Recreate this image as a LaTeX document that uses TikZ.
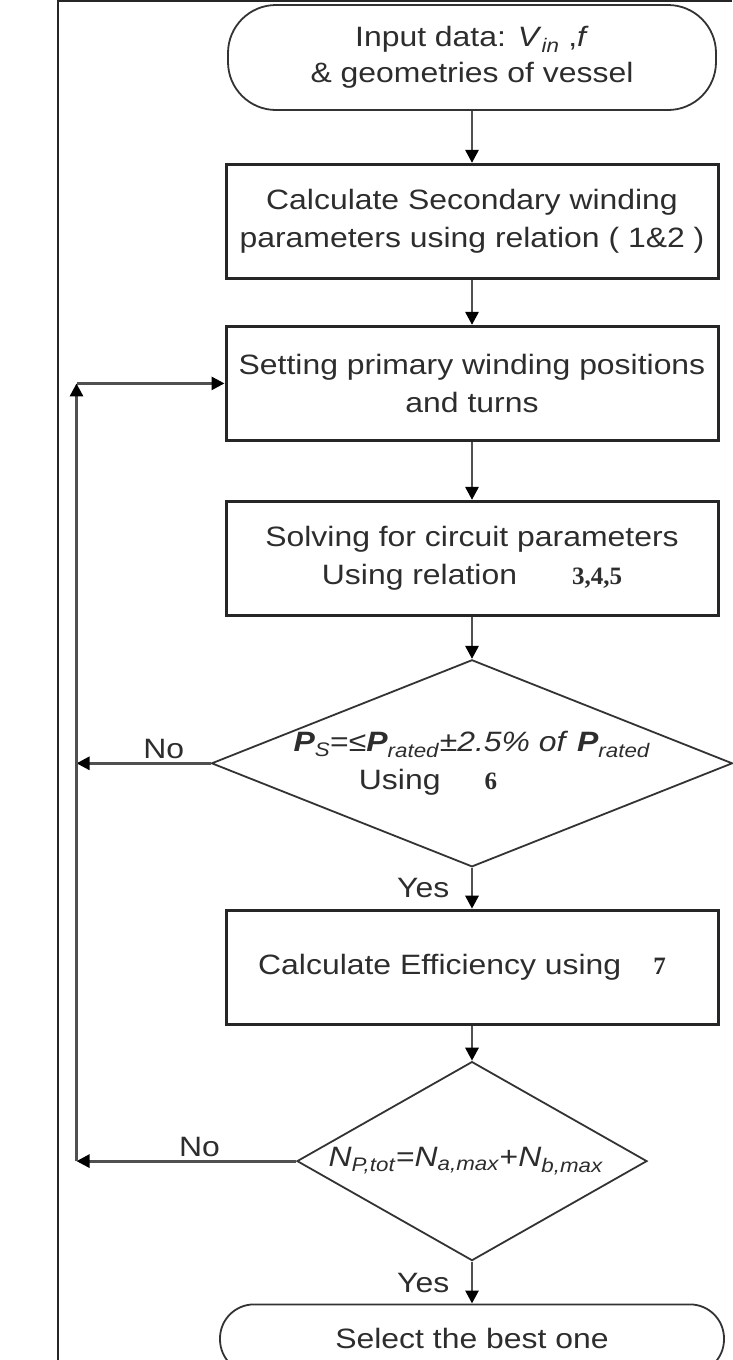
\documentclass[tikz,border=0pt]{standalone}
\usepackage{fontspec}
\setmainfont{Liberation Sans}[FakeStretch=1.14]
\newfontfamily\numfont{Liberation Serif}
\usetikzlibrary{positioning,arrows.meta,shapes.geometric}
\definecolor{linegray}{RGB}{80,80,80}
\definecolor{textgray}{RGB}{45,45,45}
\newcommand{\relno}[1]{{\numfont\bfseries\fontsize{25}{25}\selectfont #1}}
\tikzset{
  arrow/.style={-{Triangle[length=13pt,width=13pt,color=black]}, line width=2.8pt, draw=linegray},
  lbl/.style={font=\fontsize{28}{38}\selectfont, text=textgray},
  frame/.style={line width=2.2pt, draw=black!85},
  block/.style={
    draw=black!85,
    line width=3pt,
    rectangle,
    minimum width=492pt,
    minimum height=114pt,
    align=center,
    font=\fontsize{28}{38}\selectfont,
    text=textgray
  },
  decision/.style={
    diamond,
    draw=black!80,
    line width=1.8pt,
    inner sep=0pt
  },
  terminal/.style={
    rectangle,
    draw=black!80,
    line width=1.8pt,
    align=center,
    font=\fontsize{28}{36}\selectfont,
    text=textgray
  }
}

\begin{document}
\begin{tikzpicture}[x=1pt, y=-1pt, node distance=45pt]

\useasboundingbox (0,0) rectangle (732,1360);

% Outer frame
\draw[frame] (58,1360) -- (58,1) -- (732,1);

% Main column
\node[terminal, minimum width=488pt, minimum height=105pt, rounded corners=48pt] (start) at (472,57.5)
  {Input data: \textit{V}\textsubscript{\textit{in}} ,\textit{f}\\ \& geometries of vessel};
\node[block, below=52pt of start] (secondary)
  {Calculate Secondary winding\\parameters using relation ( 1\&2 )};
\node[block, below=45pt of secondary] (primary)
  {Setting primary winding positions\\and turns};
\node[block, below=58pt of primary] (solve)
  {Solving for circuit parameters\\Using relation\hspace{55pt}\relno{3,4,5}};
\node[decision, minimum width=521pt, minimum height=207pt, below=42pt of solve] (power) {};
\node[lbl, align=center] (powertxt) at (power)
  {\textbf{\textit{P}}\textsubscript{\textit{S}}=≤\textbf{\textit{P}}\textsubscript{\textit{rated}}\textit{±2.5\% of} \textbf{\textit{P}}\textsubscript{\textit{rated}}\\
   Using\hspace{44pt}\relno{6}\hspace*{88pt}};
\node[block, below=41pt of power] (eff)
  {Calculate Efficiency using\hspace{32pt}\relno{7}\hspace*{20pt}};
\node[decision, minimum width=350pt, minimum height=199pt, below=35pt of eff] (turns) {};
\node[lbl, xshift=-6pt] (turnstxt) at (turns)
  {\textit{N}\textsubscript{\textit{P,tot}}=\textit{N}\textsubscript{\textit{a,max}}+\textit{N}\textsubscript{\textit{b,max}}};
\node[terminal, minimum width=504pt, minimum height=69pt, rounded corners=34pt, below=42pt of turns] (best)
  {Select the best one};

% Straight flow
\foreach \a/\b in {start/secondary, secondary/primary, primary/solve, solve/power, eff/turns} {
  \draw[arrow] (\a.south) -- (\b.north);
}
\draw[arrow] (power.south) -- (eff.north) node[lbl, midway, left=18pt] {Yes};
\draw[arrow] (turns.south) -- (best.north) node[lbl, midway, left=18pt] {Yes};

% Feedback loop
\coordinate[left=148pt of primary.west] (loop);
\draw[arrow] (power.west) -- (power.west -| loop) node[lbl, pos=0.35, above] {No};
\draw[arrow] (turns.west) -- (turns.west -| loop) node[lbl, pos=0.44, above] {No};
\draw[arrow] (turns.west -| loop) -- (loop);
\draw[arrow] (loop) -- (primary.west);

\end{tikzpicture}
\end{document}
